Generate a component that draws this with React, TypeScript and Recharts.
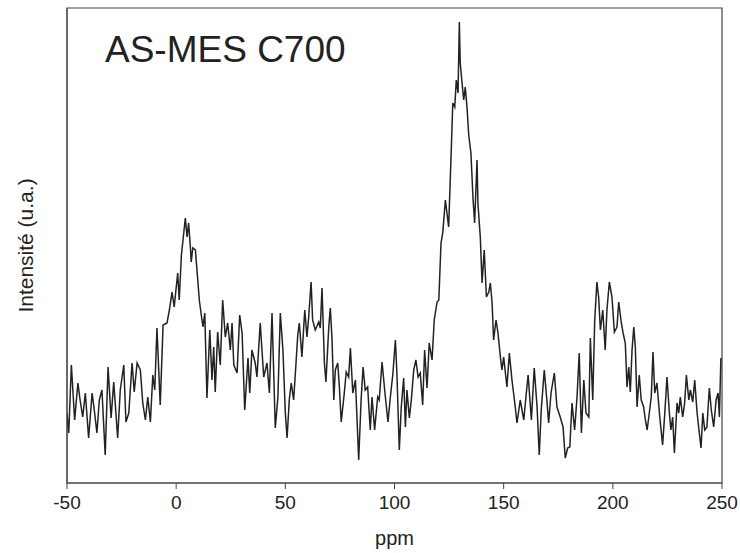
import React from 'react';
import { LineChart, Line, XAxis, YAxis, ReferenceArea } from 'recharts';

// chemical shift (ppm) and intensity (a.u.)
const ppm = [
  -50.0, -49.2, -48.0, -46.5, -45.0, -44.0, -42.8, -41.6, -40.1, -38.5, -37.5, -36.3, -35.2, -34.0,
  -32.5, -31.2, -29.8, -28.6, -26.8, -25.6, -24.0, -23.0, -21.7, -20.2, -19.2, -17.9, -16.4, -15.3,
  -14.1, -13.0, -11.8, -10.7, -9.8, -8.8, -7.3, -6.0, -4.2, -3.1, -1.9, -0.9, 0.7, 1.4, 2.4,
  4.2, 5.0, 5.7, 6.5, 6.9, 7.6, 8.8, 10.0, 10.6, 11.5, 12.3, 13.1, 14.1, 15.4, 16.4, 17.2, 17.9,
  19.0, 20.2, 21.3, 22.5, 23.6, 24.8, 25.6, 26.4, 27.9, 29.1, 30.2, 31.4, 32.9, 33.7, 34.7, 36.2,
  37.0, 38.5, 40.1, 41.6, 42.7, 43.9, 45.4, 46.6, 47.7, 48.9, 50.0, 50.8, 51.8, 52.7,
  53.8, 54.6, 55.7, 56.4, 57.6, 58.9, 59.9, 60.7, 61.8, 62.5, 63.7, 65.3, 66.0, 66.8, 67.9, 68.6,
  69.9, 70.6, 71.4, 72.2, 72.9, 74.0, 74.7, 75.6, 77.0, 77.9, 79.0, 79.8, 80.9, 82.1, 83.6, 84.7,
  85.6, 86.6, 87.7, 88.9, 89.7, 90.9, 92.3, 93.0, 94.3, 95.5, 97.0, 98.1, 99.3, 100.4, 101.1,
  102.2, 103.1, 104.2, 105.0, 105.7, 106.8, 107.7, 108.8, 109.8, 110.8, 111.8, 112.9, 113.8,
  114.9, 115.9, 117.2, 118.2, 119.5, 120.3, 121.3, 122.1, 123.3, 124.8, 126.0, 126.7, 127.6,
  128.3, 129.1, 129.7, 130.1, 130.9, 131.7, 132.4, 133.2, 134.0, 135.0, 136.0, 136.7, 137.8,
  138.2, 139.3, 140.1, 141.1, 142.1, 143.2, 143.9, 144.7, 145.4, 146.5, 147.4, 148.5, 149.2,
  150.0, 151.5, 152.6, 153.8, 155.1, 156.1, 157.6, 159.2, 160.2, 161.2, 162.7, 164.0, 165.3,
  166.3, 167.2, 168.6, 169.9, 170.6, 171.7, 173.2, 174.4, 175.9, 177.2, 178.2, 179.3, 180.3,
  181.3, 182.5, 183.6, 184.6, 185.6, 186.7, 187.7, 189.0, 189.7, 190.8, 191.7, 192.7, 193.5,
  194.3, 195.4, 196.5, 197.3, 198.4, 199.6, 200.7, 201.9, 202.7, 203.9, 204.7, 205.7, 206.5,
  207.3, 208.0, 208.8, 209.6, 210.3, 211.1, 212.1, 213.0, 214.1, 214.9, 215.7, 216.7, 217.6,
  218.4, 219.2, 220.2, 221.5, 222.8, 223.8, 224.8, 225.9, 226.6, 227.4, 228.2, 229.4, 230.2,
  230.9, 232.0, 232.9, 233.7, 234.8, 235.5, 236.6, 237.5, 238.6, 239.6, 240.4, 241.2, 242.1,
  243.1, 244.2, 245.1, 246.2, 247.3, 248.2, 248.8, 249.5,
];

const intensity = [
  70, 50, 118, 63, 100, 83, 66, 90, 45, 90, 73, 50, 83, 93,
  28, 116, 65, 101, 45, 93, 118, 61, 70, 120, 91, 120, 113, 80,
  63, 86, 61, 108, 93, 155, 78, 158, 160, 173, 191, 176, 210, 183, 228,
  265, 246, 260, 236, 221, 235, 233, 200, 183, 168, 156, 170, 85, 153, 103, 136, 91,
  151, 118, 183, 146, 160, 133, 160, 118, 110, 168, 150, 73, 125, 90, 133, 120,
  106, 160, 106, 120, 90, 170, 55, 86, 170, 133, 70, 45, 83, 100,
  83, 110, 148, 160, 126, 173, 146, 166, 201, 163, 153, 161, 155, 195, 120, 101,
  156, 175, 143, 83, 113, 120, 98, 61, 90, 111, 106, 135, 90, 103, 23, 83,
  116, 93, 96, 53, 86, 53, 86, 83, 121, 93, 61, 86, 110, 143, 110,
  33, 76, 105, 56, 93, 65, 83, 113, 123, 106, 110, 78, 133,
  95, 140, 123, 163, 181, 183, 240, 250, 283, 256, 333, 380, 376,
  403, 390, 461, 420, 401, 383, 396, 376, 348, 330, 283, 260, 323,
  280, 246, 200, 233, 186, 191, 200, 180, 143, 163, 150, 126, 113,
  126, 96, 130, 103, 80, 60, 83, 63, 86, 108, 63, 115, 76,
  28, 73, 113, 80, 60, 90, 110, 76, 66, 56, 25, 35, 36,
  80, 53, 86, 130, 50, 103, 70, 66, 145, 83, 163, 201, 186,
  153, 173, 133, 173, 201, 186, 151, 156, 181, 160, 150, 140, 96,
  116, 91, 133, 156, 136, 76, 108, 83, 76, 63, 53, 70, 86,
  131, 90, 100, 66, 38, 70, 106, 70, 53, 66, 30, 80, 70,
  86, 66, 80, 108, 83, 93, 81, 103, 70, 50, 35, 70, 53,
  56, 95, 73, 56, 83, 90, 66, 125,
];

const xTicks = [-50, 0, 50, 100, 150, 200, 250];

const data = ppm.map((p, i) => ({ ppm: p, intensity: intensity[i] }));

const font = 'Arial, "Liberation Sans", Helvetica, sans-serif';

export default function App() {
  return (
    <div style={{ position: 'absolute', left: 0, top: 0, width: 740, height: 553, background: '#fff' }}>
      <LineChart width={740} height={553} data={data} margin={{ top: 8, right: 18, left: 0, bottom: 0 }}>
        <XAxis
          dataKey="ppm"
          type="number"
          domain={[-50, 250]}
          ticks={xTicks}
          allowDataOverflow
          height={70}
          tickSize={6}
          tickMargin={7}
          stroke="#444"
          tick={{ fill: '#222', fontSize: 19, fontFamily: font }}
          label={{ value: 'ppm', position: 'insideBottom', offset: 8, fill: '#222', fontSize: 20, fontFamily: font }}
        />
        <YAxis
          type="number"
          domain={[0, 475]}
          width={67}
          tick={false}
          tickLine={false}
          stroke="#444"
          label={{
            value: 'Intensité (u.a.)',
            angle: -90,
            position: 'insideLeft',
            offset: 26,
            fill: '#222',
            fontSize: 21,
            fontFamily: font,
            style: { textAnchor: 'middle' },
          }}
        />
        <ReferenceArea x1={-50} x2={250} y1={0} y2={475} fill="none" stroke="#444" strokeWidth={1.2} />
        <Line
          type="linear"
          dataKey="intensity"
          stroke="#222"
          strokeWidth={1.5}
          dot={false}
          isAnimationActive={false}
        />
      </LineChart>
      <div
        style={{
          position: 'absolute',
          left: 105,
          top: 31,
          fontFamily: font,
          fontSize: 37,
          lineHeight: '37px',
          color: '#222',
          whiteSpace: 'nowrap',
        }}
      >
        AS-MES C700
      </div>
    </div>
  );
}
